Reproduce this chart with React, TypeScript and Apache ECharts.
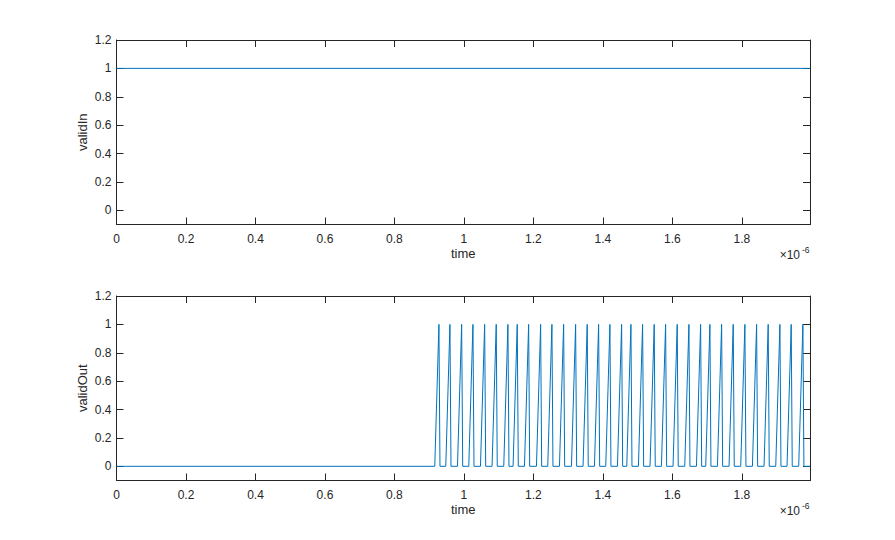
import React, { useEffect, useRef } from "react";
import * as echarts from "echarts";

// ---- data ----
const tStart = 0;
const tEnd = 1.996e-6;
const timeIn = [0, 1.996e-6];
const validIn = [1, 1];

// times (s) of each validOut pulse peak
const pulsePeakTimes = [
  0.928e-6, 0.9597e-6, 0.9934e-6, 1.0259e-6, 1.0596e-6, 1.0929e-6, 1.1266e-6,
  1.1534e-6, 1.1862e-6, 1.2207e-6, 1.2532e-6, 1.2869e-6, 1.3214e-6, 1.3548e-6,
  1.3876e-6, 1.4201e-6, 1.4538e-6, 1.4806e-6, 1.5142e-6, 1.5476e-6, 1.5804e-6,
  1.6138e-6, 1.6475e-6, 1.6812e-6, 1.7079e-6, 1.7416e-6, 1.775e-6, 1.8086e-6,
  1.8423e-6, 1.8757e-6, 1.9094e-6, 1.9419e-6, 1.9755e-6,
];
const pulseRise = 0.012e-6; // read width of the rising edge
const pulseFall = 0.003e-6; // read width of the falling edge

const xTickValues = [0, 0.2e-6, 0.4e-6, 0.6e-6, 0.8e-6, 1.0e-6, 1.2e-6, 1.4e-6, 1.6e-6, 1.8e-6];
const yTickValues = [0, 0.2, 0.4, 0.6, 0.8, 1, 1.2];
const yMin = -0.1;
const yMax = 1.2;
const xLabel = "time";
const yLabels = ["validIn", "validOut"];

const FONT = "'Liberation Sans', Arial, Helvetica, sans-serif";
const AXIS_COLOR = "#262626";
const LINE_COLOR = "#0072BD";

function buildValidOut(): [number, number][] {
  const pts: [number, number][] = [[tStart, 0]];
  for (const p of pulsePeakTimes) {
    pts.push([p - pulseRise, 0]);
    pts.push([p, 1]);
    pts.push([p + pulseFall, 0]);
  }
  pts.push([tEnd, 0]);
  return pts;
}

export default function App() {
  const ref = useRef<HTMLDivElement>(null);
  useEffect(() => {
    if (!ref.current) return;
    const chart = echarts.init(ref.current, undefined, { renderer: "svg" });

    const grids = [
      { left: 116.5, top: 40, width: 693.5, height: 184.5 },
      { left: 116.5, top: 296, width: 693.5, height: 184.5 },
    ];

    const lineStyle = { color: AXIS_COLOR, width: 1 };
    const xAxes: any[] = [];
    const yAxes: any[] = [];
    grids.forEach((_, gi) => {
      xAxes.push({
        type: "value",
        gridIndex: gi,
        position: "bottom",
        min: tStart,
        max: tEnd,
        name: xLabel,
        nameLocation: "middle",
        nameGap: 22,
        nameMoveOverlap: false,
        nameTextStyle: { color: AXIS_COLOR, fontSize: 13, fontFamily: FONT },
        axisLine: { show: true, onZero: false, lineStyle },
        axisTick: { show: true, inside: true, length: 7, lineStyle, customValues: xTickValues },
        axisLabel: {
          show: true,
          margin: 8,
          color: AXIS_COLOR,
          fontSize: 12,
          fontFamily: FONT,
          customValues: xTickValues,
          formatter: (v: number) => String(Math.round(v * 1e7) / 10),
        },
        splitLine: { show: false },
      });
      xAxes.push({
        type: "value",
        gridIndex: gi,
        position: "top",
        min: tStart,
        max: tEnd,
        axisLine: { show: true, onZero: false, lineStyle },
        axisTick: { show: true, inside: true, length: 7, lineStyle, customValues: xTickValues },
        axisLabel: { show: false },
        splitLine: { show: false },
      });
      yAxes.push({
        type: "value",
        gridIndex: gi,
        position: "left",
        min: yMin,
        max: yMax,
        name: yLabels[gi],
        nameLocation: "middle",
        nameGap: 28,
        nameMoveOverlap: false,
        nameTextStyle: { color: AXIS_COLOR, fontSize: 13, fontFamily: FONT },
        axisLine: { show: true, onZero: false, lineStyle },
        axisTick: { show: true, inside: true, length: 7, lineStyle, customValues: yTickValues },
        axisLabel: {
          show: true,
          margin: 5,
          color: AXIS_COLOR,
          fontSize: 12,
          fontFamily: FONT,
          customValues: yTickValues,
          formatter: (v: number) => String(Math.round(v * 10) / 10),
        },
        splitLine: { show: false },
      });
      yAxes.push({
        type: "value",
        gridIndex: gi,
        position: "right",
        min: yMin,
        max: yMax,
        axisLine: { show: true, onZero: false, lineStyle },
        axisTick: { show: true, inside: true, length: 7, lineStyle, customValues: yTickValues },
        axisLabel: { show: false },
        splitLine: { show: false },
      });
    });

    const exponentGraphics: any[] = [];
    grids.forEach((g) => {
      const right = g.left + g.width;
      const baseY = g.top + g.height;
      exponentGraphics.push({
        type: "text",
        x: right - 10,
        y: baseY + 30,
        style: {
          text: "×10",
          fill: AXIS_COLOR,
          fontSize: 12,
          fontFamily: FONT,
          align: "right",
          verticalAlign: "middle",
        },
      });
      exponentGraphics.push({
        type: "text",
        x: right - 0.5,
        y: baseY + 25,
        style: {
          text: "-6",
          fill: AXIS_COLOR,
          fontSize: 8.5,
          fontFamily: FONT,
          align: "right",
          verticalAlign: "middle",
        },
      });
    });

    chart.setOption({
      animation: false,
      backgroundColor: "#ffffff",
      grid: grids.map((g) => ({ ...g, containLabel: false })),
      xAxis: xAxes,
      yAxis: yAxes,
      series: [
        {
          type: "line",
          xAxisIndex: 0,
          yAxisIndex: 0,
          data: timeIn.map((t, i) => [t, validIn[i]]),
          symbol: "none",
          lineStyle: { color: LINE_COLOR, width: 1 },
        },
        {
          type: "line",
          xAxisIndex: 2,
          yAxisIndex: 2,
          data: buildValidOut(),
          symbol: "none",
          lineStyle: { color: LINE_COLOR, width: 1 },
        },
      ],
      graphic: exponentGraphics,
    });
    return () => chart.dispose();
  }, []);
  return (
    <div
      ref={ref}
      style={{ position: "fixed", left: 0, top: 0, width: 895, height: 540, background: "#fff" }}
    />
  );
}
